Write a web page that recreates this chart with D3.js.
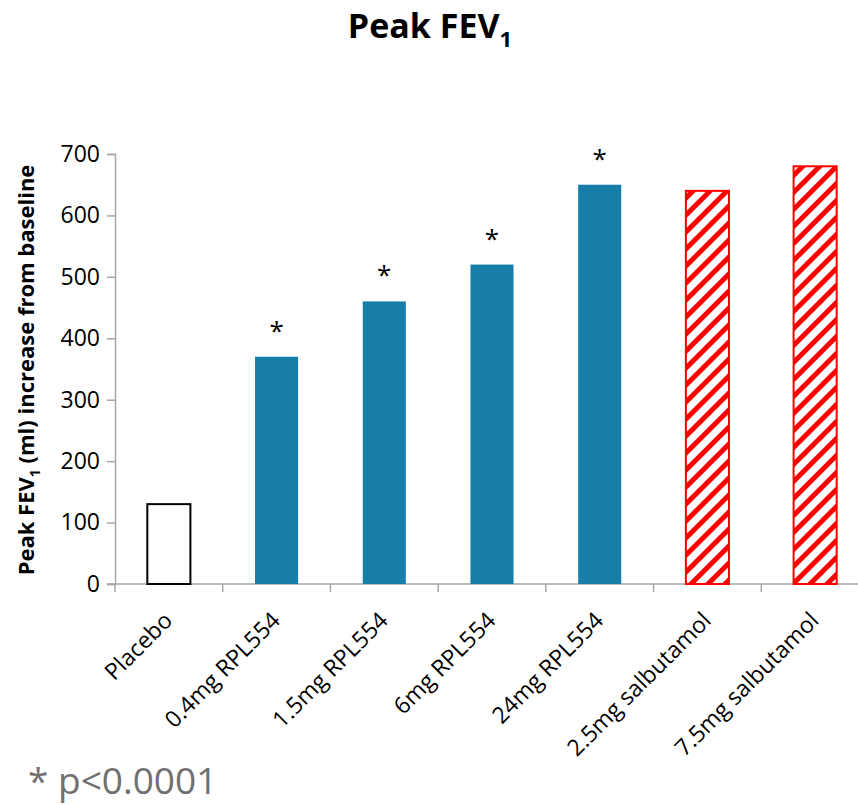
<!DOCTYPE html>
<html>
<head>
<meta charset="utf-8">
<script src="https://d3js.org/d3.v7.min.js"></script>
<style>
  body { margin: 0; background: white; }
  text { font-family: "Open Sans", sans-serif; }
</style>
</head>
<body>
<div id="chart"></div>
<script>
// chart data
var categories = ["Placebo", "0.4mg RPL554", "1.5mg RPL554", "6mg RPL554", "24mg RPL554", "2.5mg salbutamol", "7.5mg salbutamol"];
var values = [130, 370, 460, 520, 650, 640, 680];
var groups = ["placebo", "rpl", "rpl", "rpl", "rpl", "salb", "salb"];
var significant = [false, true, true, true, true, false, false];
var yTicks = [0, 100, 200, 300, 400, 500, 600, 700];

var w = 858;
var h = 805;

var svg = d3.select("#chart")
    .append("svg")
    .attr("width", w)
    .attr("height", h);

// red diagonal hatch for salbutamol bars
var defs = svg.append("defs");
var pat = defs.append("pattern")
    .attr("id", "hatch")
    .attr("patternUnits", "userSpaceOnUse")
    .attr("width", 17)
    .attr("height", 17);
pat.append("rect").attr("width", 17).attr("height", 17).style("fill", "white");
pat.append("path")
    .attr("d", "M-4,4 L4,-4 M0,17 L17,0 M13,21 L21,13")
    .style("stroke", "#ff0000")
    .style("stroke-width", 5);

var xScale = d3.scaleBand()
    .domain(categories)
    .range([115, 869])
    .paddingInner(0.6)
    .paddingOuter(0.3);

var yScale = d3.scaleLinear()
    .domain([0, 700])
    .range([584, 154]);

// title
var title = svg.append("text")
    .attr("x", 430)
    .attr("y", 38)
    .attr("text-anchor", "middle")
    .style("font-size", "34px")
    .style("font-weight", "bold");
title.append("tspan").text("Peak FEV");
title.append("tspan").attr("dy", 9).style("font-size", "22px").text("1");

// y axis
var yAxis = d3.axisLeft(yScale).tickValues(yTicks).tickSize(8).tickPadding(7).tickFormat(d3.format("d"));
var gy = svg.append("g")
    .attr("class", "axis y--axis")
    .attr("transform", "translate(115,0)")
    .call(yAxis);
gy.select(".domain").style("stroke", "#a6a6a6").style("stroke-width", 1.5);
gy.selectAll(".tick line").style("stroke", "#a6a6a6").style("stroke-width", 1.5);
gy.selectAll(".tick text").style("font-size", "23px").style("fill", "#000");

// x axis: ticks between categories
var xAxisLine = svg.append("g").attr("class", "axis x--axis");
xAxisLine.append("line")
    .attr("x1", 107).attr("x2", 869)
    .attr("y1", yScale(0)).attr("y2", yScale(0))
    .style("stroke", "#a6a6a6").style("stroke-width", 1.5);
var step = xScale.step();
xAxisLine.selectAll(".sep")
    .data(categories)
    .enter()
    .append("line")
    .attr("class", "sep")
    .attr("x1", function(d) { return xScale(d) + xScale.bandwidth() / 2 - step / 2; })
    .attr("x2", function(d) { return xScale(d) + xScale.bandwidth() / 2 - step / 2; })
    .attr("y1", yScale(0))
    .attr("y2", yScale(0) + 8)
    .style("stroke", "#a6a6a6").style("stroke-width", 1.5);

// category labels, rotated
svg.selectAll(".xlabel")
    .data(categories)
    .enter()
    .append("text")
    .attr("class", "xlabel")
    .attr("text-anchor", "end")
    .attr("transform", function(d) {
        var cx = xScale(d) + xScale.bandwidth() / 2 + 5;
        return "translate(" + cx + ",622) rotate(-45)";
    })
    .style("font-size", "23px")
    .text(function(d) { return d; });

// y axis title
var ylab = svg.append("text")
    .attr("transform", "translate(34,370) rotate(-90)")
    .attr("text-anchor", "middle")
    .style("font-size", "22px")
    .style("font-weight", "bold");
ylab.append("tspan").text("Peak FEV");
ylab.append("tspan").attr("dy", 6).style("font-size", "14px").text("1");
ylab.append("tspan").attr("dy", -6).text(" (ml) increase from baseline");

// bars
var fills = { placebo: "white", rpl: "#177ea9", salb: "url(#hatch)" };
var strokes = { placebo: "#000", rpl: "none", salb: "#ff0000" };

svg.selectAll(".bar")
    .data(values)
    .enter()
    .append("rect")
    .attr("class", "bar")
    .attr("x", function(d, i) { return xScale(categories[i]); })
    .attr("y", function(d) { return yScale(d); })
    .attr("width", xScale.bandwidth())
    .attr("height", function(d) { return yScale(0) - yScale(d); })
    .style("fill", function(d, i) { return fills[groups[i]]; })
    .style("stroke", function(d, i) { return strokes[groups[i]]; })
    .style("stroke-width", 2);

// significance stars
svg.selectAll(".star")
    .data(values)
    .enter()
    .filter(function(d, i) { return significant[i]; })
    .append("text")
    .attr("class", "star")
    .attr("x", function(d, i) { return xScale(categories[values.indexOf(d)]) + xScale.bandwidth() / 2; })
    .attr("y", function(d) { return yScale(d) - 17; })
    .attr("text-anchor", "middle")
    .style("font-size", "26px")
    .text("*");

// footnote
svg.append("text")
    .attr("x", 28)
    .attr("y", 794)
    .style("font-size", "37px")
    .style("fill", "#707070")
    .text("* p<0.0001");
</script>
</body>
</html>
